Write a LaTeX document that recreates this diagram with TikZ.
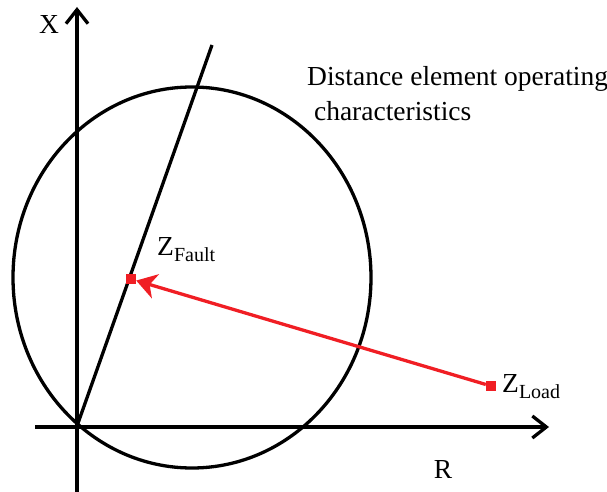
\documentclass[tikz,border=0pt]{standalone}
\usepackage{fontspec}
\setmainfont{Liberation Serif}
\usepackage{tikz}
\usetikzlibrary{arrows.meta,positioning}
\definecolor{zred}{RGB}{240,30,36}
\newcommand{\impsub}[1]{Z\raisebox{-6pt}{\fontsize{20}{20}\selectfont #1}}

\begin{document}
\begin{tikzpicture}[
x=1pt, y=-1pt,
axis/.style={line width=3.3pt, -{Straight Barb[length=14pt, width=22pt]}},
curve/.style={line width=3.3pt},
impdot/.style={fill=zred, inner sep=0pt, minimum size=10pt},
label/.style={font=\fontsize{27.5}{35}\selectfont, inner sep=0pt},
redarrow/.style={zred, line width=3.3pt, -{Stealth[length=20pt, width=25pt, inset=6pt]}}
]
\useasboundingbox (0,0) rectangle (607,492);

% axes
\coordinate (O) at (77,426);
\coordinate (xbot) at (77,492);
\coordinate (xtop) at (77,7);
\coordinate (rleft) at (35,427);
\coordinate (rright) at (549,427);
\draw[axis] (xbot) -- (xtop);
\draw[axis] (rleft) -- (rright);
\node[label] (xlab) at (49,24) {X};
\node[label] (rlab) at (443,469) {R};

% operating characteristic and line impedance
\draw[curve] (192,277.5) ellipse [x radius=179pt, y radius=190.5pt];
\coordinate (ltop) at (212,45);
\draw[curve] (O) -- (ltop);
\node[label, anchor=north west, align=left] (title) at (307,66) {Distance element operating\\\hspace{0.25em}characteristics};

% impedances
\node[impdot] (zf) at (131,279) {};
\node[impdot] (zl) at (491,386) {};
\draw[redarrow] (zl) -- (zf);
\node[label, anchor=base west] (zflab) at (157,255) {\impsub{Fault}};
\node[label, anchor=base west] (zllab) at (502,392) {\impsub{Load}};
\end{tikzpicture}
\end{document}
